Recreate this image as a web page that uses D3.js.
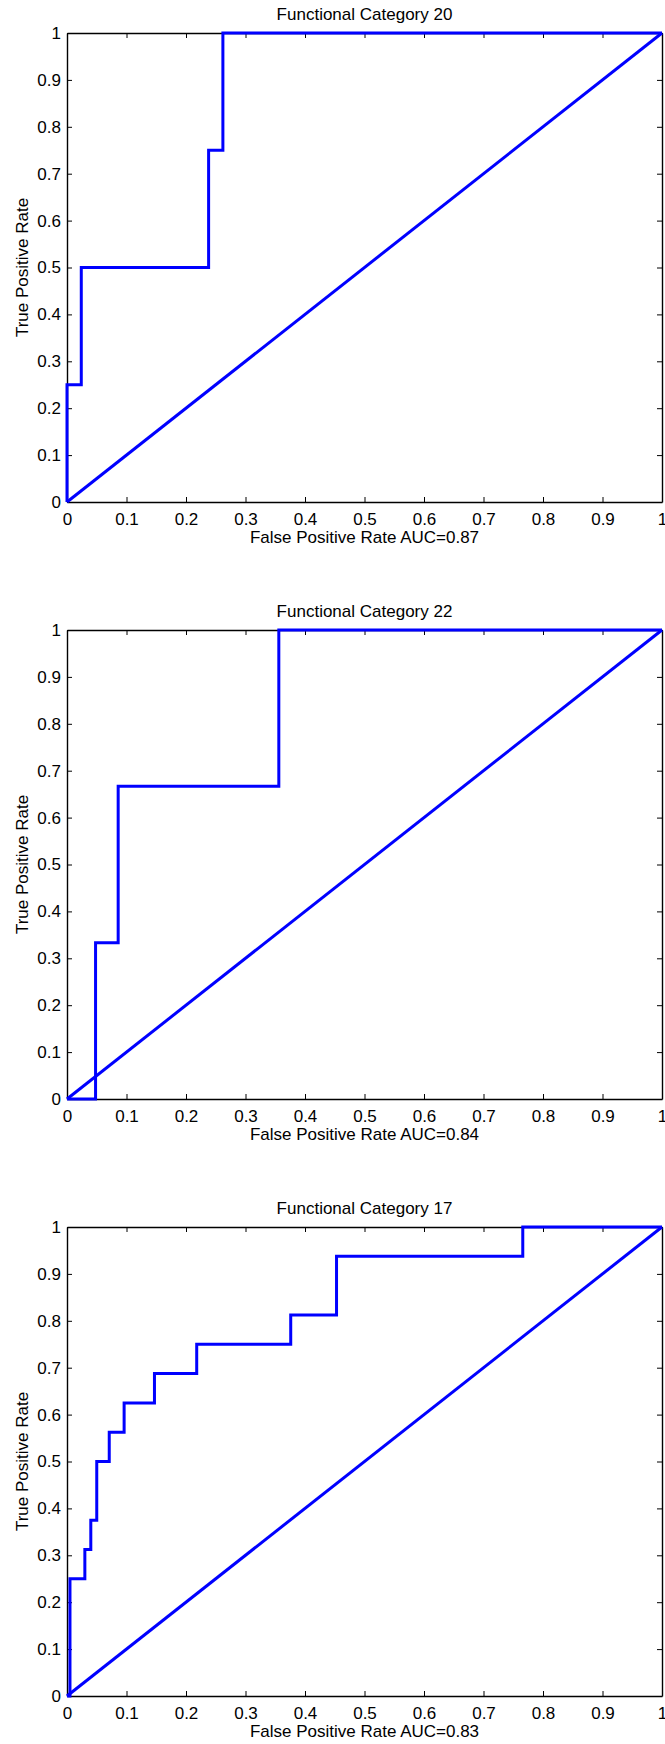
<!DOCTYPE html>
<html>
<head>
<meta charset="utf-8">
<script src="https://cdn.jsdelivr.net/npm/d3@7"></script>
<style>
  body { margin: 0; background: #fff; }
  svg text { font-family: "Liberation Sans", Arial, sans-serif; }
</style>
</head>
<body>
<div id="chart"></div>
<script>
// values
const titles = ["Functional Category 20", "Functional Category 22", "Functional Category 17"];
const aucValues = ["0.87", "0.84", "0.83"];
const tickValues = [0, 0.1, 0.2, 0.3, 0.4, 0.5, 0.6, 0.7, 0.8, 0.9, 1];

const fpr20 = [0, 0, 0.024, 0.024, 0.238, 0.238, 0.262, 0.262, 1];
const tpr20 = [0, 0.25, 0.25, 0.5, 0.5, 0.75, 0.75, 1, 1];

const fpr22 = [0, 0.048, 0.048, 0.086, 0.086, 0.356, 0.356, 1];
const tpr22 = [0, 0, 0.333, 0.333, 0.667, 0.667, 1, 1];

const fpr17 = [0, 0.005, 0.005, 0.030, 0.030, 0.040, 0.040, 0.050, 0.050, 0.071, 0.071, 0.096,
               0.096, 0.147, 0.147, 0.218, 0.218, 0.376, 0.376, 0.453, 0.453, 0.766, 0.766, 1];
const tpr17 = [0, 0, 0.25, 0.25, 0.3125, 0.3125, 0.375, 0.375, 0.5, 0.5, 0.5625, 0.5625,
               0.625, 0.625, 0.6875, 0.6875, 0.75, 0.75, 0.8125, 0.8125, 0.9375, 0.9375, 1, 1];

const diagonal = [0, 1];

const panels = [
    {title: titles[0], auc: aucValues[0], fpr: fpr20, tpr: tpr20},
    {title: titles[1], auc: aucValues[1], fpr: fpr22, tpr: tpr22},
    {title: titles[2], auc: aucValues[2], fpr: fpr17, tpr: tpr17}
];

const width = 665;
const height = 1744;
const left = 67;
const plotWidth = 595;
const plotHeight = 469;
const tops = [33, 630, 1227];
const fontSize = 17;

const svg = d3.select("#chart")
    .append("svg")
        .attr("width", width)
        .attr("height", height);

const xScale = d3.scaleLinear().domain([0, 1]).range([0, plotWidth]);
const yScale = d3.scaleLinear().domain([0, 1]).range([plotHeight, 0]);

const line = d3.line()
    .x(d => xScale(d[0]))
    .y(d => yScale(d[1]));

function fmt(v) {
    return v === 0 || v === 1 ? String(v) : d3.format(".1f")(v);
}

panels.forEach((p, i) => {
    const g = svg.append("g")
        .attr("transform", `translate(${left}, ${tops[i]})`);

    // box axes, ticks pointing inward like matlab
    const bottom = g.append("g")
        .attr("transform", `translate(0, ${plotHeight})`)
        .call(d3.axisBottom(xScale).tickValues(tickValues).tickFormat(fmt)
            .tickSizeInner(-5).tickSizeOuter(0).tickPadding(10.5));
    const leftAx = g.append("g")
        .call(d3.axisLeft(yScale).tickValues(tickValues).tickFormat(fmt)
            .tickSizeInner(-5).tickSizeOuter(0).tickPadding(6));
    const topAx = g.append("g")
        .call(d3.axisTop(xScale).tickValues(tickValues).tickFormat("")
            .tickSizeInner(-5).tickSizeOuter(0));
    const rightAx = g.append("g")
        .attr("transform", `translate(${plotWidth}, 0)`)
        .call(d3.axisRight(yScale).tickValues(tickValues).tickFormat("")
            .tickSizeInner(-5).tickSizeOuter(0));

    [bottom, leftAx, topAx, rightAx].forEach(a => {
        a.select(".domain").attr("stroke", "#000").attr("stroke-width", 1.4);
        a.selectAll(".tick line").attr("stroke", "#000").attr("stroke-width", 1);
        a.selectAll("text")
            .attr("fill", "#000")
            .style("font-size", fontSize + "px")
            .style("font-family", '"Liberation Sans", Arial, sans-serif');
    });

    // diagonal reference
    g.append("path")
        .datum(diagonal.map(v => [v, v]))
        .attr("d", line)
        .attr("fill", "none")
        .attr("stroke", "#0000ff")
        .attr("stroke-width", 3);

    // roc curve
    g.append("path")
        .datum(p.fpr.map((x, k) => [x, p.tpr[k]]))
        .attr("d", line)
        .attr("fill", "none")
        .attr("stroke", "#0000ff")
        .attr("stroke-width", 3)
        .attr("stroke-linejoin", "miter");

    // title
    g.append("text")
        .attr("x", plotWidth / 2)
        .attr("y", -13.5)
        .attr("text-anchor", "middle")
        .style("font-size", fontSize + "px")
        .text(p.title);

    // x axis title
    g.append("text")
        .attr("x", plotWidth / 2)
        .attr("y", plotHeight + 41)
        .attr("text-anchor", "middle")
        .style("font-size", fontSize + "px")
        .text("False Positive Rate AUC=" + p.auc);

    // y axis title
    g.append("text")
        .attr("transform", "rotate(-90)")
        .attr("x", -plotHeight / 2)
        .attr("y", 27.5 - left)
        .attr("text-anchor", "middle")
        .style("font-size", fontSize + "px")
        .text("True Positive Rate");
});
</script>
</body>
</html>
